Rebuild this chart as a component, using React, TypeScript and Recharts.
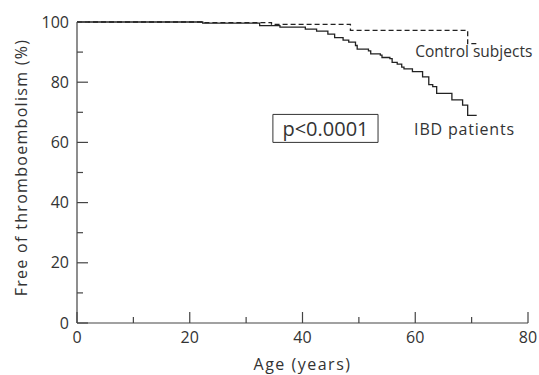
import React from 'react';
import { LineChart, Line, XAxis, YAxis, ReferenceArea, ReferenceDot } from 'recharts';

const ibdAges = [0, 22.3, 32.4, 36, 40.5, 42.5, 44.5, 45.7, 47.2, 48.2, 49.4, 49.7, 51.7, 52.1, 53.8, 54.1, 55.5, 55.9, 56.8, 57.6, 58.0, 59.5, 61.3, 62.4, 63.1, 63.8, 66.5, 68.4, 69.3, 70.9];
const ibdValues = [100, 99.6, 98.8, 98.3, 97.6, 97.0, 96.0, 94.8, 94.0, 93.3, 92.2, 91.0, 90.4, 89.4, 89.0, 88.2, 87.8, 86.6, 86.0, 85.0, 84.4, 83.5, 81.8, 79.2, 78.5, 76.3, 74.1, 72.4, 69.0, 69.0];

const controlAges = [0, 22.3, 34.5, 48.5, 69.3, 71.0];
const controlValues = [100, 99.8, 99.2, 97.2, 92.8, 92.8];

const xTicks = [0, 10, 20, 30, 40, 50, 60, 70, 80];
const yTicks = [0, 10, 20, 30, 40, 50, 60, 70, 80, 90, 100];

const ibdData = ibdAges.map((a, i) => ({ age: a, value: ibdValues[i] }));
const controlData = controlAges.map((a, i) => ({ age: a, value: controlValues[i] }));

const FONT = '"Open Sans", "DejaVu Sans", sans-serif';
const TEXT = '#333';
const AXIS = '#444';
const X_MARGIN = 9;
const Y_MARGIN = 8;

const XTick = (props: any) => {
  const { x, y, payload } = props;
  const major = payload.value % 20 === 0;
  const axisY = y - X_MARGIN;
  return (
    <g>
      <line x1={x} y1={axisY} x2={x} y2={axisY - (major ? 11 : 6)} stroke={AXIS} strokeWidth={1.2} />
      {major && (
        <text x={x} y={y} dy="0.71em" textAnchor="middle" fill={TEXT} fontSize={16} fontFamily={FONT}>
          {payload.value}
        </text>
      )}
    </g>
  );
};

const YTick = (props: any) => {
  const { x, y, payload } = props;
  const major = payload.value % 20 === 0;
  const axisX = x + Y_MARGIN;
  return (
    <g>
      <line x1={axisX} y1={y} x2={axisX + (major ? 11 : 6)} y2={y} stroke={AXIS} strokeWidth={1.2} />
      {major && (
        <text x={x} y={y} dy="0.355em" textAnchor="end" fill={TEXT} fontSize={16} fontFamily={FONT}>
          {payload.value}
        </text>
      )}
    </g>
  );
};

const YTitle = (props: any) => {
  const vb = props.viewBox || { x: 0, y: 0, width: 0, height: 0 };
  const cx = vb.x + 21;
  const cy = vb.y + vb.height / 2 - 5;
  return (
    <text
      x={cx}
      y={cy}
      transform={`rotate(-90, ${cx}, ${cy})`}
      textAnchor="middle"
      dominantBaseline="central"
      fill={TEXT}
      fontSize={16}
      letterSpacing={1.3}
      fontFamily={FONT}
    >
      Free of thromboembolism (%)
    </text>
  );
};

export default function App() {
  return (
    <div style={{ position: 'absolute', left: 0, top: 0, width: 539, height: 375, background: '#fff' }}>
      <LineChart width={539} height={375} margin={{ top: 22, right: 11, bottom: 0, left: 0 }}>
        <XAxis
          type="number"
          dataKey="age"
          domain={[0, 80]}
          ticks={xTicks}
          interval={0}
          tickSize={0}
          tickMargin={X_MARGIN}
          tick={<XTick />}
          tickLine={false}
          axisLine={{ stroke: AXIS, strokeWidth: 1.2 }}
          height={52}
          allowDuplicatedCategory={false}
          label={{ value: 'Age (years)', position: 'insideBottom', offset: 5, fill: TEXT, fontSize: 16, fontFamily: FONT, letterSpacing: 1.5 }}
        />
        <YAxis
          type="number"
          domain={[0, 100]}
          ticks={yTicks}
          interval={0}
          tickSize={0}
          tickMargin={Y_MARGIN}
          tick={<YTick />}
          tickLine={false}
          axisLine={{ stroke: AXIS, strokeWidth: 1.2 }}
          width={77}
          label={<YTitle />}
        />
        <ReferenceArea
          x1={34.75}
          x2={53.4}
          y1={60}
          y2={69.3}
          fill="#fff"
          fillOpacity={1}
          stroke={TEXT}
          strokeWidth={1}
          label={{ value: 'p<0.0001', position: 'center', fill: TEXT, fontSize: 20, fontFamily: FONT }}
        />
        <Line
          data={controlData}
          dataKey="value"
          type="stepAfter"
          stroke="#222"
          strokeWidth={1.3}
          strokeDasharray="5 3"
          dot={false}
          isAnimationActive={false}
        />
        <Line
          data={ibdData}
          dataKey="value"
          type="stepAfter"
          stroke="#222"
          strokeWidth={1.3}
          dot={false}
          isAnimationActive={false}
        />
        <ReferenceDot
          x={60}
          y={90.2}
          r={0}
          fill="none"
          stroke="none"
          label={{ value: 'Control subjects', position: 'right', offset: 0, fill: TEXT, fontSize: 15.5, fontFamily: FONT }}
        />
        <ReferenceDot
          x={59.8}
          y={64.5}
          r={0}
          fill="none"
          stroke="none"
          label={{ value: 'IBD patients', position: 'right', offset: 0, fill: TEXT, fontSize: 16, fontFamily: FONT, letterSpacing: 0.8 }}
        />
      </LineChart>
    </div>
  );
}
